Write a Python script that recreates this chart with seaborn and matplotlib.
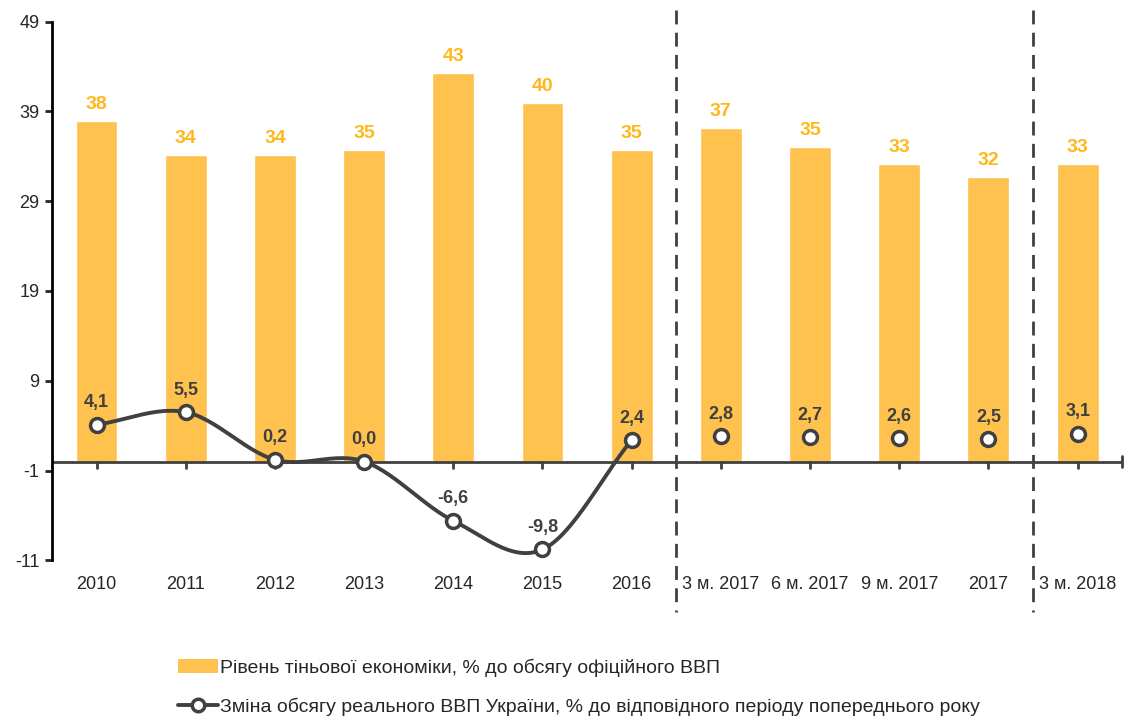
import numpy as np
import pandas as pd
import matplotlib
matplotlib.use("Agg")
import matplotlib.pyplot as plt
import seaborn as sns
from matplotlib.lines import Line2D
from matplotlib.patches import Patch

periods = ["2010", "2011", "2012", "2013", "2014", "2015", "2016",
           "3 м. 2017", "6 м. 2017", "9 м. 2017", "2017", "3 м. 2018"]
shadow = [37.9, 34.1, 34.1, 34.7, 43.3, 39.9, 34.7, 37.2, 35.0, 33.1, 31.7, 33.1]
shadow_lbl = ["38", "34", "34", "35", "43", "40", "35", "37", "35", "33", "32", "33"]
gdp = [4.1, 5.5, 0.2, 0.0, -6.6, -9.8, 2.4, 2.8, 2.7, 2.6, 2.5, 3.1]
gdp_lbl = ["4,1", "5,5", "0,2", "0,0", "-6,6", "-9,8", "2,4", "2,8", "2,7", "2,6", "2,5", "3,1"]
n_annual = 7  # 2010..2016 joined by a line

sns.set_style("white")
plt.rcParams["font.family"] = ["Liberation Sans", "DejaVu Sans"]
plt.rcParams["axes.unicode_minus"] = False

bar_col = "#FFC24F"
lbl_col = "#FFB81C"
line_col = "#404040"
txt_col = "#262626"

df = pd.DataFrame({"period": periods, "shadow": shadow})
fig = plt.figure(figsize=(11.29, 7.22), dpi=100)
ax = fig.add_axes([0.046, 0.224, 0.948, 0.746])
sns.barplot(data=df, x="period", y="shadow", color=bar_col, width=0.47,
            saturation=1, ax=ax)

# smoothed line (Catmull-Rom) for annual values
xs = np.arange(n_annual, dtype=float)
ys = np.array(gdp[:n_annual])
px = np.concatenate([[2 * xs[0] - xs[1]], xs, [2 * xs[-1] - xs[-2]]])
py = np.concatenate([[2 * ys[0] - ys[1]], ys, [2 * ys[-1] - ys[-2]]])
cx, cy = [], []
t = np.linspace(0, 1, 30)
for i in range(1, len(px) - 2):
    p0, p1, p2, p3 = [np.array([px[j], py[j]]) for j in range(i - 1, i + 3)]
    seg = 0.5 * ((2 * p1)[:, None] + (-p0 + p2)[:, None] * t
                 + (2 * p0 - 5 * p1 + 4 * p2 - p3)[:, None] * t ** 2
                 + (-p0 + 3 * p1 - 3 * p2 + p3)[:, None] * t ** 3)
    cx.extend(seg[0]); cy.extend(seg[1])
ax.plot(cx, cy, color=line_col, lw=2.8, zorder=3)
ax.plot(np.arange(len(gdp)), gdp, ls="none", marker="o", ms=10,
        mfc="white", mec=line_col, mew=2.5, zorder=4)

for i, (v, s) in enumerate(zip(shadow, shadow_lbl)):
    ax.text(i, v + 0.9, s, ha="center", va="bottom", color=lbl_col,
            fontsize=14, fontweight="bold")
for i, (v, s) in enumerate(zip(gdp, gdp_lbl)):
    ax.text(i, v + 1.5, s, ha="center", va="bottom", color=line_col,
            fontsize=13, fontweight="bold")

ax.set_ylim(-11, 49)
ax.set_xlim(-0.5, len(periods) - 0.5)
ax.set_yticks(np.arange(-11, 50, 10))
ax.set_xlabel("")
ax.set_ylabel("")
for sp in ["top", "right", "bottom"]:
    ax.spines[sp].set_visible(False)
ax.spines["left"].set_linewidth(2)
ax.spines["left"].set_color("black")
ax.axhline(0, color=line_col, lw=2, zorder=2)
ax.tick_params(axis="y", left=True, length=5, width=2, labelsize=13, pad=4)
ax.tick_params(axis="x", bottom=False, labelsize=13, pad=8)
for lab in ax.get_xticklabels() + ax.get_yticklabels():
    lab.set_color(txt_col)
for i in range(len(periods)):
    ax.plot([i, i], [0, -0.7], color=line_col, lw=2, zorder=2)
ax.plot([len(periods) - 0.5] * 2, [0.6, -0.6], color=line_col, lw=2,
        clip_on=False)

for xd in [6.5, 10.5]:
    ax.plot([xd, xd], [50.3, -16.8], color="#404040", lw=2,
            ls=(0, (5, 3)), clip_on=False, zorder=1)

handles = [Patch(facecolor=bar_col, edgecolor="none"),
           Line2D([0], [0], color=line_col, lw=2.8, marker="o", ms=9,
                  mfc="white", mec=line_col, mew=2.5)]
labels = ["Рівень тіньової економіки, % до обсягу офіційного ВВП",
          "Зміна обсягу реального ВВП України, % до відповідного періоду попереднього року"]
fig.legend(handles, labels, loc="upper left", bbox_to_anchor=(0.158, 0.088),
           frameon=False, fontsize=14, handlelength=2.05, handletextpad=0.1,
           labelspacing=1.06, borderpad=0, borderaxespad=0,
           labelcolor=txt_col)

fig.savefig("out.png", dpi=100)
